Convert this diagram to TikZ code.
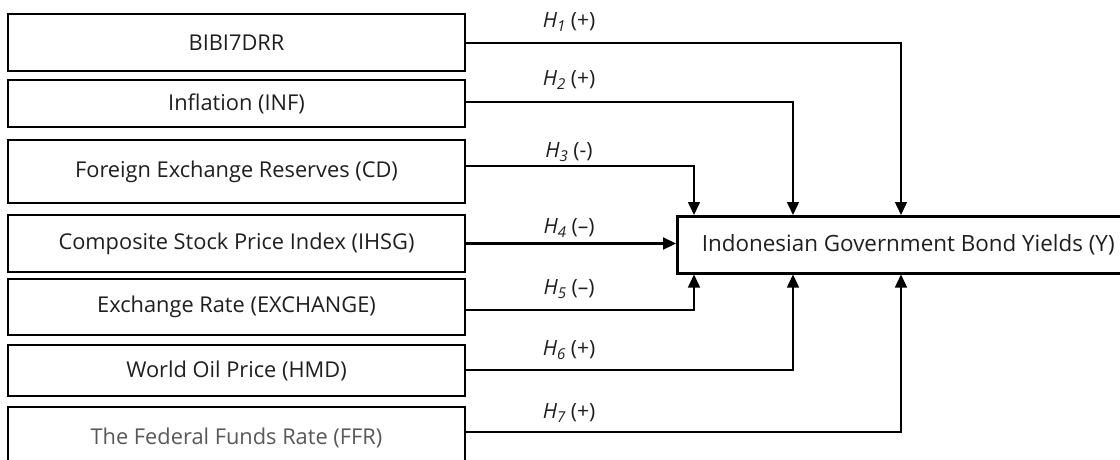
\documentclass[tikz,border=0pt]{standalone}
\usepackage{fontspec}
\setmainfont{Open Sans}
\usetikzlibrary{arrows.meta}
\begin{document}
\begin{tikzpicture}[x=1pt,y=-1pt,
  varbox/.style={draw=black,line width=2.5pt,fill=white,minimum width=457pt,inner sep=0pt,
    font=\fontsize{21.8}{24}\selectfont,text=black!88},
  conn/.style={line width=1.5pt,-{Triangle[length=13pt,width=12pt]}},
  hlab/.style={font=\fontsize{21}{24}\selectfont,text=black!88,inner sep=1pt}]
\clip (0,0) rectangle (1120,459);
\fill[white] (0,0) rectangle (1120,459);
\node[varbox,minimum height=57pt] (b1) at (236.5,42.5) {BIBI7DRR};
\node[varbox,minimum height=47pt] (b2) at (236.5,103.5) {Inflation (INF)};
\node[varbox,minimum height=63pt] (b3) at (236.5,171.5) {Foreign Exchange Reserves (CD)};
\node[varbox,minimum height=57pt] (b4) at (236.5,243.5) {Composite Stock Price Index (IHSG)};
\node[varbox,minimum height=56pt] (b5) at (236.5,307) {Exchange Rate (EXCHANGE)};
\node[varbox,minimum height=51pt] (b6) at (236.5,370.5) {World Oil Price (HMD)};
\node[varbox,minimum height=62pt,text=black!65] (b7) at (236.5,438) {The Federal Funds Rate (FFR)};
\node[varbox,minimum width=462pt,minimum height=57pt,anchor=north west,font=\fontsize{22.4}{24}\selectfont] (m) at (676,215) {Indonesian Government Bond Yields (Y)};
\draw[conn] ([yshift=-0.5pt]b1.east) -| ([xshift=225pt]m.north west);
\draw[conn] ([yshift=1.5pt]b2.east) -| ([xshift=117pt]m.north west);
\draw[conn] ([yshift=5.5pt]b3.east) -| ([xshift=18pt]m.north west);
\draw[conn,line width=2.2pt] (b4.east) -- (b4.east -| m.west);
\draw[conn] ([yshift=-3pt]b5.east) -| ([xshift=18pt]m.south west);
\draw[conn] ([yshift=0.5pt]b6.east) -| ([xshift=117pt]m.south west);
\draw[conn] ([yshift=6pt]b7.east) -| ([xshift=225pt]m.south west);
\node[hlab] (h1) at (569,22) {\textit{H}\raisebox{-0.35ex}{\fontsize{15}{16}\selectfont\itshape 1} (+)};
\node[hlab] (h2) at (569,80) {\textit{H}\raisebox{-0.35ex}{\fontsize{15}{16}\selectfont\itshape 2} (+)};
\node[hlab] (h3) at (569,152) {\textit{H}\raisebox{-0.35ex}{\fontsize{15}{16}\selectfont\itshape 3} (-)};
\node[hlab] (h4) at (569,228) {\textit{H}\raisebox{-0.35ex}{\fontsize{15}{16}\selectfont\itshape 4} (–)};
\node[hlab] (h5) at (569,289) {\textit{H}\raisebox{-0.35ex}{\fontsize{15}{16}\selectfont\itshape 5} (–)};
\node[hlab] (h6) at (569,350) {\textit{H}\raisebox{-0.35ex}{\fontsize{15}{16}\selectfont\itshape 6} (+)};
\node[hlab] (h7) at (569,413) {\textit{H}\raisebox{-0.35ex}{\fontsize{15}{16}\selectfont\itshape 7} (+)};
\end{tikzpicture}
\end{document}
